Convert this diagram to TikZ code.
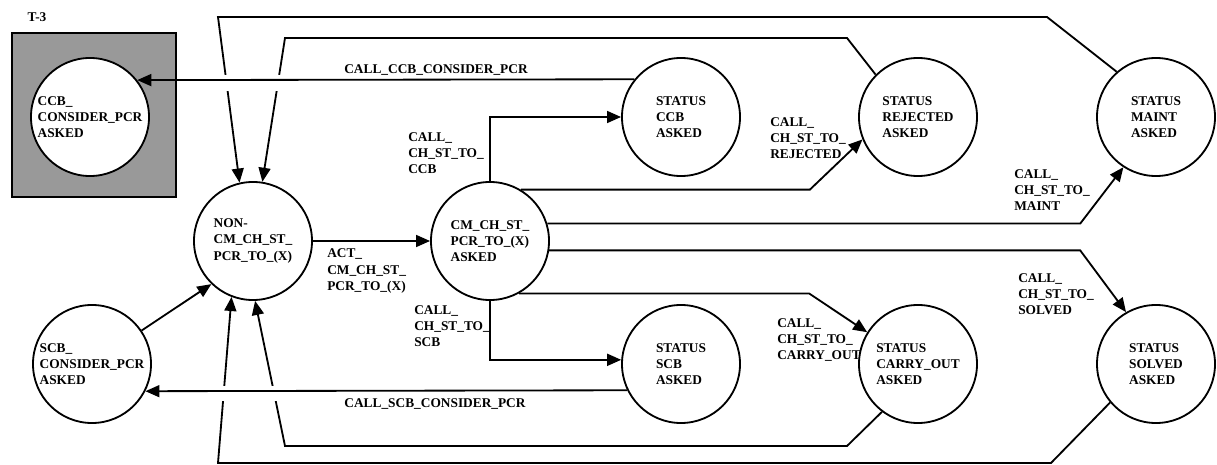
\documentclass[tikz,border=0pt]{standalone}
\usepackage{fontspec}
\setmainfont{Liberation Serif}
\usetikzlibrary{arrows.meta}
\definecolor{boxgray}{RGB}{153,153,153}
\begin{document}
\begin{tikzpicture}[x=0.025cm,y=-0.025cm,
  every node/.style={font=\fontsize{9.5}{11.4}\selectfont\bfseries},
  state/.style={circle,draw,line width=1.3pt,minimum size=2.95cm,inner sep=0pt,align=left,fill=white},
  lbl/.style={align=left,anchor=west,inner sep=0pt},
  conn/.style={line width=1.3pt},
  arr/.style={conn,-{Triangle[length=10pt,width=8.5pt]}}]
\useasboundingbox (0,0) rectangle (1217,465);

% grey box and its label
\node[draw,fill=boxgray,line width=1.3pt,minimum width=4.1cm,minimum height=4.1cm,inner sep=0pt] (t3box) at (94,115) {};
\node (t3) at (37,17) {T-3};

% states
\node[state] (ccb)    at (90,117)   {CCB\_\\CONSIDER\_PCR\\ASKED};
\node[state] (non)    at (253,241)  {NON-\\CM\_CH\_ST\_\\PCR\_TO\_(X)};
\node[state] (scbc)   at (92,364)   {SCB\_\\CONSIDER\_PCR\\ASKED};
\node[state] (cm)     at (490,241)  {CM\_CH\_ST\_\\PCR\_TO\_(X)\\ASKED};
\node[state] (sccb)   at (681,117)  {STATUS\\CCB\\ASKED};
\node[state] (rej)    at (918,117)  {STATUS\\REJECTED\\ASKED};
\node[state] (maint)  at (1156,117) {STATUS\\MAINT\\ASKED};
\node[state] (scb)    at (681,364)  {STATUS\\SCB\\ASKED};
\node[state] (carry)  at (918,364)  {STATUS\\CARRY\_OUT\\ASKED};
\node[state] (solved) at (1156,364) {STATUS\\SOLVED\\ASKED};

% return loops into NON-CM_CH_ST_PCR_TO_(X)
\draw[arr] (maint.131.6) -- (1047,17) -- (218,17) -- (non.103.3);
\draw[arr] (rej.135) -- (847,38) -- (285,38) -- (non.81.3);
\draw[arr] (carry.233.9) -- (847,446) -- (285,446) -- (non.272);
\draw[arr] (solved.220) -- (1051,463) -- (218,463) -- (non.249.3);

% gaps where the loops pass under the horizontal arrows
\fill[white] (205,75) rectangle (295,91);
\fill[white] (205,386) rectangle (295,401);

% calls to the consider states
\draw[arr] (sccb.141.2) -- (ccb.38.8);
\node (lccb) at (436,70) {CALL\_CCB\_CONSIDER\_PCR};
\draw[arr] (scb.206.1) -- (scbc.333.9);
\node (lscbc) at (435,404) {CALL\_SCB\_CONSIDER\_PCR};
\draw[arr] (scbc.34) -- (non.226.3);

% activation
\draw[arr] (non.east) -- (cm.west);
\node[lbl] (lact) at (327,271) {ACT\_\\CM\_CH\_ST\_\\PCR\_TO\_(X)};

% status changes
\draw[arr] (cm.north) |- (sccb.west);
\node[lbl] (lccbc) at (408,153) {CALL\_\\CH\_ST\_TO\_\\CCB};
\draw[arr] (cm.south) |- (scb.176.1);
\node[lbl] (lscb) at (414,326) {CALL\_\\CH\_ST\_TO\_\\SCB};
\draw[arr] (cm.59.5) -- ++(289,0) -- (rej.202.3);
\node[lbl] (lrej) at (770,138) {CALL\_\\CH\_ST\_TO\_\\REJECTED};
\draw[arr] (cm.17.5) -- ++(533,0) -- (maint.237.1);
\node[lbl] (lmaint) at (1014,190) {CALL\_\\CH\_ST\_TO\_\\MAINT};
\draw[arr] (cm.-9.8) -- ++(531,0) -- (solved.120.3);
\node[lbl] (lsolved) at (1018,294) {CALL\_\\CH\_ST\_TO\_\\SOLVED};
\draw[arr] (cm.-61.2) -- ++(290,0) -- (carry.148.2);
\node[lbl] (lcarry) at (777,340) {CALL\_\\CH\_ST\_TO\_\\CARRY\_OUT};
\end{tikzpicture}
\end{document}
